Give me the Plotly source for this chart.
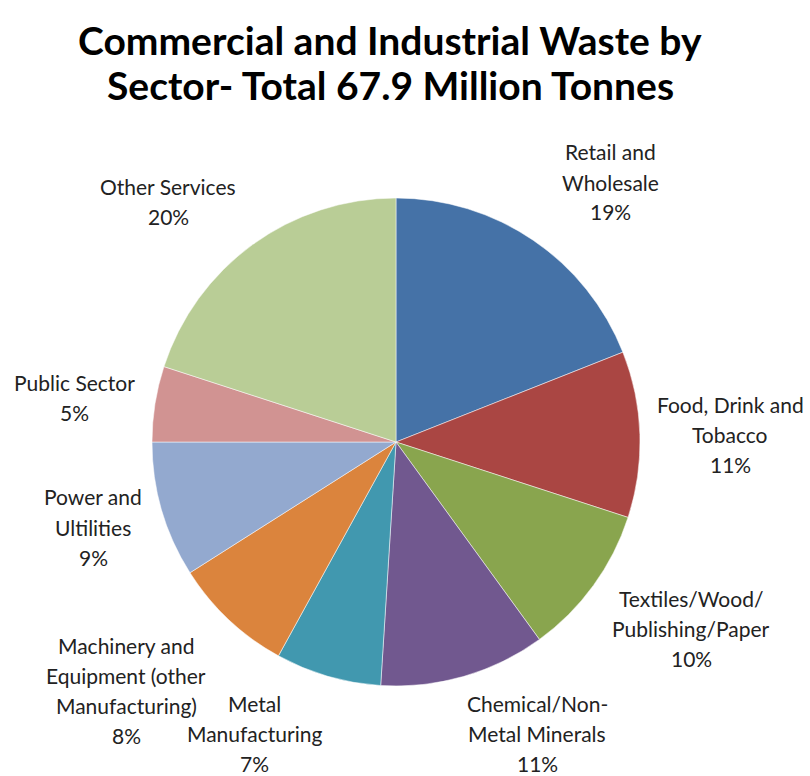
import plotly.graph_objects as go

title_lines = ["Commercial and Industrial Waste by", "Sector- Total 67.9 Million Tonnes"]
labels = ["Retail and Wholesale", "Food, Drink and Tobacco", "Textiles/Wood/Publishing/Paper",
          "Chemical/Non-Metal Minerals", "Metal Manufacturing",
          "Machinery and Equipment (other Manufacturing)", "Power and Ultilities",
          "Public Sector", "Other Services"]
label_lines = [["Retail and", "Wholesale"], ["Food, Drink and", "Tobacco"], ["Textiles/Wood/", "Publishing/Paper"],
               ["Chemical/Non-", "Metal Minerals"], ["Metal", "Manufacturing"],
               ["Machinery and", "Equipment (other", "Manufacturing)"], ["Power and", "Ultilities"],
               ["Public Sector"], ["Other Services"]]
percent = [19, 11, 10, 11, 7, 8, 9, 5, 20]
colors = ["#4572A7", "#AA4643", "#89A54E", "#71588F", "#4198AF",
          "#DB843D", "#93A9CF", "#D19392", "#B9CD96"]

# label block centre positions in pixels (x, y from top)
label_pos = [(610, 182), (730, 434), (691, 628), (537, 733), (254, 733),
             (126, 690), (93, 527), (74, 397), (168, 201)]
line_gap = 30

W, H = 810, 776
cx, cy, r = 396, 442, 244

fig = go.Figure(go.Pie(
    labels=labels, values=percent, sort=False, direction="clockwise", rotation=0,
    marker=dict(colors=colors, line=dict(color="white", width=0.5)),
    textinfo="none", hoverinfo="label+percent", showlegend=False,
    domain=dict(x=[(cx - r) / W, (cx + r) / W], y=[(H - cy - r) / H, (H - cy + r) / H]),
))

font_family = "Lato, Open Sans, sans-serif"
for lines, p, (x, y) in zip(label_lines, percent, label_pos):
    all_lines = lines + [f"{p}%"]
    n = len(all_lines)
    for i, t in enumerate(all_lines):
        ly = y + (i - (n - 1) / 2) * line_gap
        fig.add_annotation(x=x / W, y=1 - ly / H, xref="paper", yref="paper",
                           text=t, showarrow=False, xanchor="center", yanchor="middle",
                           font=dict(family=font_family, size=21, color="#222"))

for i, t in enumerate(title_lines):
    fig.add_annotation(x=390 / W, y=1 - (40 + 45 * i) / H, xref="paper", yref="paper", text=f"<b>{t}</b>",
                       showarrow=False, xanchor="center", yanchor="middle",
                       font=dict(family=font_family, size=39, color="black"))

fig.update_layout(width=W, height=H, margin=dict(l=0, r=0, t=0, b=0),
                  paper_bgcolor="white", plot_bgcolor="white")
fig.write_html("out.html")
